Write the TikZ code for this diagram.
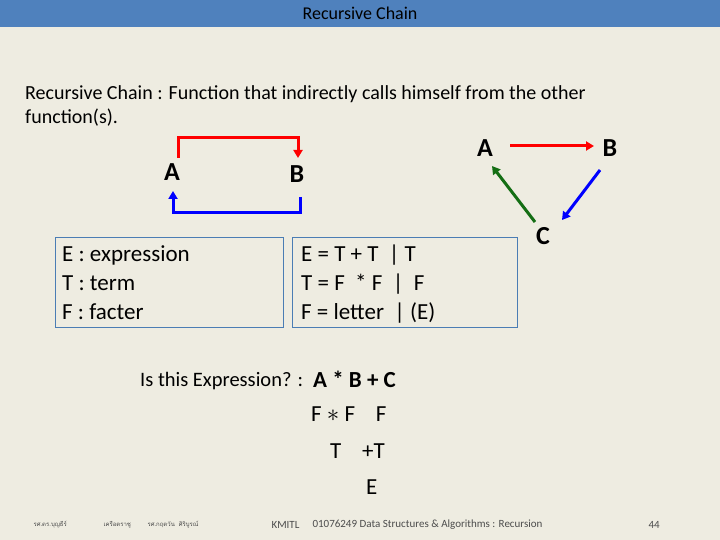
\documentclass[tikz,border=0pt]{standalone}
\usepackage{fontspec}
\setmainfont{Carlito}
\newfontfamily\thaifont[Script=Thai]{Loma}
\usetikzlibrary{arrows.meta}
\definecolor{bg}{RGB}{238,236,225}
\definecolor{bar}{RGB}{79,129,189}
\definecolor{bx}{RGB}{75,125,180}
\definecolor{gr}{RGB}{20,110,20}
\tikzset{lbl/.style={font=\fontsize{26}{30}\selectfont\bfseries},
 arr/.style={line width=3pt,-{Triangle[length=8pt,width=9pt]}},
 box/.style={draw=bx,line width=1pt},
 ft/.style={font=\fontsize{11}{12}\selectfont,text=black!70,anchor=west}}
\begin{document}
\begin{tikzpicture}[x=1pt,y=-1pt]
\fill[bg] (0,0) rectangle (720,540);
\fill[bar] (0,0) rectangle (720,27);
\node[font=\fontsize{18}{19}\selectfont] (title) at (360,13) {Recursive Chain};
\node[anchor=north west,align=left,inner sep=0,font=\fontsize{20}{24}\selectfont] (intro) at (25,85) {Recursive Chain : Function that indirectly calls himself from the other\\ function(s).};
\node[lbl] (a1) at (172,172) {A};
\node[lbl] (b1) at (297,174) {B};
\draw[arr,red] (178,158) -- (178,138) -- (298,138) -- (298,158);
\draw[arr,blue] (300,197) -- (300,213) -- (173,213) -- (173,191);
\node[box,minimum width=228,minimum height=90,anchor=north west] (lb) at (55,237) {};
\node[box,minimum width=225,minimum height=90,anchor=north west] (rb) at (292,237) {};
\node[anchor=north west,align=left,inner sep=0,font=\fontsize{23}{29}\selectfont] (lt) at (62,245) {E : expression\\T : term\\F : facter};
\node[anchor=north west,align=left,inner sep=0,font=\fontsize{23}{29}\selectfont] (rt) at (301,245) {E = T + T \ | T\\T = F \ * F \ | \ F\\F = letter \ | (E)};
\node[lbl] (a2) at (485,148) {A};
\node[lbl] (b2) at (610,148) {B};
\node[lbl] (c2) at (543,236) {C};
\draw[arr,red] (510,146) -- (594,146);
\draw[arr,blue] (600,170) -- (562,220);
\draw[arr,gr] (535,222) -- (492,166);
\node[anchor=west,inner sep=0,font=\fontsize{20.5}{22}\selectfont] (q) at (140,381) {Is this Expression? :};
\node[anchor=west,inner sep=0,font=\fontsize{23}{26}\selectfont\bfseries] (ex) at (313,379) {A * B + C};
\node[anchor=west,inner sep=0,font=\fontsize{23}{26}\selectfont] (l2) at (311,414) {F $\ast$ F \ \ \ F};
\node[anchor=west,inner sep=0,font=\fontsize{23}{26}\selectfont] (l3) at (330,451) {T \ \ \ +T};
\node[anchor=west,inner sep=0,font=\fontsize{23}{26}\selectfont] (l4) at (366,487) {E};
\node[ft] (f1) at (30,525) {\thaifont\fontsize{6}{7}\selectfont รศ.ดร.บุญธีร์};
\node[ft] (f2) at (100,525) {\thaifont\fontsize{6}{7}\selectfont เครือตราชู};
\node[ft] (f3) at (144,525) {\thaifont\fontsize{6}{7}\selectfont รศ.กฤตวัน \ ศิริบูรณ์};
\node[ft] (f4) at (268,525) {KMITL};
\node[ft] (f5) at (309,525) {01076249 Data Structures \& Algorithms : Recursion};
\node[ft] (f6) at (645,525) {44};
\end{tikzpicture}
\end{document}
